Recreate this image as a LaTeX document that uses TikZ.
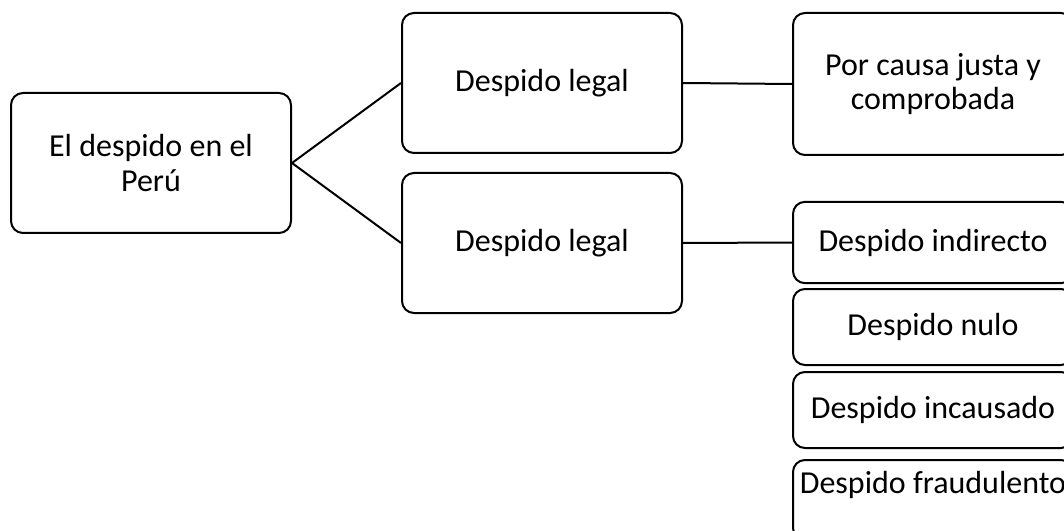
\documentclass[tikz,border=0pt]{standalone}
\usepackage{fontspec}
\setmainfont{Carlito}
\usetikzlibrary{positioning}
\tikzset{
  box/.style={draw, line width=1.5pt, rounded corners=9pt, minimum width=210pt,
    minimum height=105pt, align=center, inner sep=2pt,
    font=\fontsize{24}{26}\selectfont},
  sub/.style={box, minimum height=57pt},
  link/.style={line width=1.5pt}
}
\begin{document}
\begin{tikzpicture}[x=0.75pt, y=-0.75pt]
		\useasboundingbox (0,0) rectangle (1064,531);
		\clip (0,0) rectangle (1064,531);
		% raiz
		\node[box] (peru) at (151,163) {El despido en el\\Perú};
		\node[box] (legal1) at (542,83) {Despido legal};
		\node[box] (legal2) at (542,243) {Despido legal};
		% ramas
		\node[box, minimum height=106.5pt] (causa) at (933,84) {Por causa justa y\\comprobada};
		\node[sub, minimum height=61pt] (indirecto) at (933,242.5) {Despido indirecto};
		\node[sub] (nulo) at (933,327) {Despido nulo};
		\node[sub] (incausado) at (933,410) {Despido incausado};
		\node[sub, minimum height=60pt] (fraude) at (933,500) {Despido fraudulento\\\mbox{}};
		\draw[link] (legal1.west) -- (peru.east) -- (legal2.west);
		\draw[link] (legal1.east) -- (causa.west);
		\draw[link] (legal2.east) -- (indirecto.west);
\end{tikzpicture}
\end{document}
